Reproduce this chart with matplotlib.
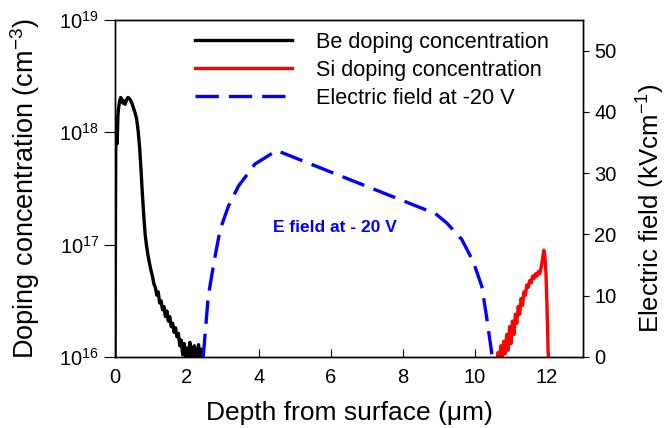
import matplotlib
matplotlib.use("Agg")
from matplotlib import pyplot as plt

plt.rcParams['font.family'] = ['Liberation Sans', 'DejaVu Sans']
plt.rcParams['mathtext.fontset'] = 'custom'
plt.rcParams['mathtext.rm'] = 'Liberation Sans'
plt.rcParams['mathtext.it'] = 'Liberation Sans:italic'
plt.rcParams['mathtext.bf'] = 'Liberation Sans:bold'

# Be profile (depth um, log10 concentration cm^-3)
be_depth = [0.00, 0.02, 0.04, 0.06, 0.08, 0.10, 0.13, 0.16, 0.19, 0.22, 0.25, 0.28,
            0.32, 0.36, 0.40, 0.44, 0.48, 0.52, 0.56, 0.60, 0.64, 0.68, 0.72, 0.76,
            0.80, 0.84, 0.88, 0.92, 0.96, 1.00, 1.04, 1.08, 1.12, 1.16, 1.20, 1.24,
            1.28, 1.32, 1.36, 1.40, 1.44, 1.48, 1.52, 1.56, 1.60, 1.64, 1.68, 1.72,
            1.76, 1.80, 1.84, 1.88, 1.92, 1.96, 2.00, 2.04, 2.08, 2.12, 2.16, 2.20,
            2.24, 2.28, 2.32, 2.36, 2.40, 2.44]
be_log = [16.0, 17.85, 18.05, 17.9, 18.15, 18.22, 18.28, 18.31, 18.29, 18.26, 18.28, 18.25,
          18.29, 18.31, 18.30, 18.28, 18.25, 18.21, 18.17, 18.12, 18.02, 17.88, 17.68, 17.45,
          17.25, 17.08, 16.98, 16.90, 16.83, 16.77, 16.72, 16.65, 16.62, 16.55, 16.58, 16.48,
          16.50, 16.42, 16.45, 16.36, 16.41, 16.32, 16.36, 16.27, 16.30, 16.22, 16.26, 16.18,
          16.21, 16.10, 16.15, 16.02, 16.12, 15.98, 16.08, 16.01, 16.13, 15.97, 16.06, 16.10,
          15.98, 16.04, 16.11, 15.99, 16.07, 15.97]

# Si profile
si_depth = [10.60, 10.64, 10.68, 10.72, 10.76, 10.80, 10.84, 10.88, 10.92, 10.96, 11.00,
            11.04, 11.08, 11.12, 11.16, 11.20, 11.24, 11.28, 11.32, 11.36, 11.40, 11.44,
            11.48, 11.52, 11.56, 11.60, 11.64, 11.68, 11.72, 11.76, 11.80, 11.84, 11.88,
            11.91, 11.94, 11.97, 12.00, 12.03, 12.06]
si_log = [15.95, 16.04, 15.97, 16.10, 16.00, 16.14, 16.03, 16.20, 16.06, 16.27, 16.12,
          16.32, 16.20, 16.38, 16.30, 16.45, 16.38, 16.52, 16.46, 16.58, 16.55, 16.64,
          16.62, 16.68, 16.66, 16.72, 16.70, 16.74, 16.72, 16.76, 16.74, 16.80, 16.88,
          16.95, 16.90, 16.75, 16.45, 16.05, 15.90]

# electric field at -20 V (kV/cm)
ef_depth = [2.45, 2.59, 2.75, 2.92, 3.15, 3.43, 3.89, 4.49, 6.5, 8.9, 9.21, 9.63, 9.95,
            10.19, 10.32, 10.48]
ef_val = [0, 9.9, 15.5, 20.8, 24.6, 27.9, 31.5, 33.7, 29.0, 23.4, 21.9, 19.2, 15.6,
          11.5, 6.6, 0]

be_conc = [10 ** v for v in be_log]
si_conc = [10 ** v for v in si_log]

fig = plt.figure(figsize=(6.66, 4.28), dpi=100)
ax = fig.add_axes([0.1727, 0.1659, 0.7027, 0.7874])
ax2 = ax.twinx()

l1, = ax.plot(be_depth, be_conc, color="black", lw=2.4, label="Be doping concentration")
l2, = ax.plot(si_depth, si_conc, color="red", lw=2.4, label="Si doping concentration")
l3, = ax2.plot(ef_depth, ef_val, color="blue", lw=2.4, dashes=(7, 3),
               label="Electric field at -20 V")

ax.set_yscale("log")
ax.set_ylim(1e16, 1e19)
ax.set_xlim(0, 13)
ax.set_xticks([0, 2, 4, 6, 8, 10, 12])
ax.yaxis.set_minor_locator(matplotlib.ticker.NullLocator())
ax2.set_ylim(0, 55)
ax2.set_yticks([0, 10, 20, 30, 40, 50])

ax.tick_params(axis="x", direction="in", length=6, labelsize=14.5, pad=8)
ax.tick_params(axis="y", direction="out", length=8, labelsize=14.5)
ax2.tick_params(axis="y", direction="out", length=4.5, labelsize=14.5)

for a in (ax, ax2):
    for s in a.spines.values():
        s.set_linewidth(1.0)

ax.set_xlabel("Depth from surface (\u03bcm)", fontsize=19, labelpad=10)
ax.set_ylabel("Doping concentration (cm$^{-3}$)", fontsize=19.5)
ax2.set_ylabel("Electric field (kVcm$^{-1}$)", fontsize=18.5)
ax.yaxis.set_label_coords(-0.155, 0.5)
ax2.yaxis.set_label_coords(1.11, 0.44)

ax2.text(6.1, 21.1, "E field at - 20 V", color="blue", fontsize=12.5,
         fontweight="bold", ha="center", va="center")

ax2.legend([l1, l2, l3], [l1.get_label(), l2.get_label(), l3.get_label()],
           loc="upper left", bbox_to_anchor=(0.17, 0.965), frameon=False,
           fontsize=15.6, handlelength=4.5, handletextpad=1.1, labelspacing=0.33,
           borderaxespad=0, borderpad=0)

fig.savefig("out.png", dpi=100)
